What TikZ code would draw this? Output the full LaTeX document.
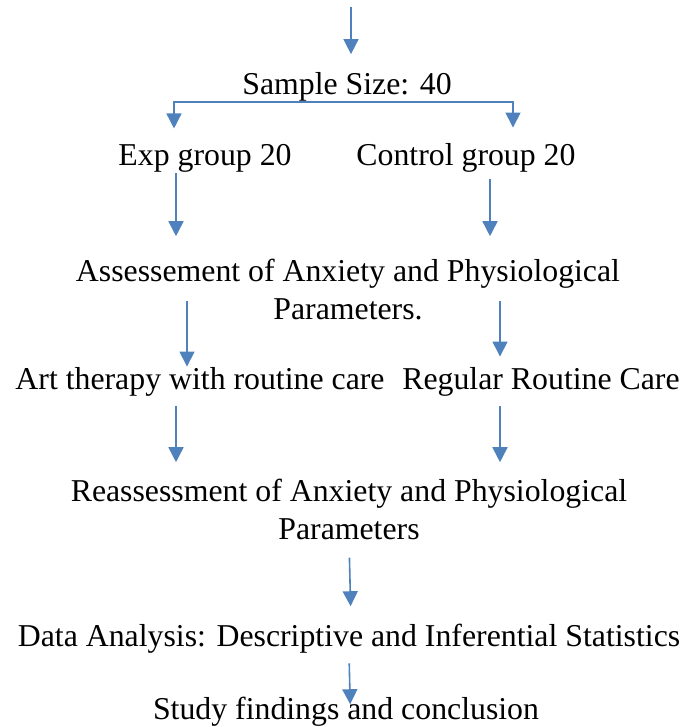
\documentclass[tikz,border=0pt]{standalone}
\usepackage{fontspec}
\setmainfont{Liberation Serif}
\usepackage{tikz}
\usetikzlibrary{arrows.meta}
\definecolor{flowblue}{RGB}{79,129,189}
\tikzstyle{stage} = [inner sep=0pt, anchor=base, align=center, font=\fontsize{15.9}{19}\selectfont]
\tikzstyle{flow} = [draw=flowblue, line width=0.8pt, -{Triangle[length=7.5pt,width=7.5pt]}]

\begin{document}
\begin{tikzpicture}[x=0.5pt, y=-0.5pt]
   \useasboundingbox (0,0) rectangle (699,727);
   % Place nodes
   \coordinate (in) at (351,7);
   \node [stage] (sample) at (347,95) {Sample Size: 40};
   \node [stage] (exp) at (205,166) {Exp group 20};
   \node [stage] (ctrl) at (466,166) {Control group 20};
   \node [stage] (assess) at (348,319) {Assessement of Anxiety and Physiological \\ Parameters.};
   \node [stage] (art) at (200,389) {Art therapy with routine care};
   \node [stage] (routine) at (541,389) {Regular Routine Care};
   \node [stage] (reassess) at (349,539) {Reassessment of Anxiety and Physiological \\ Parameters};
   \node [stage] (data) at (349,646) {Data Analysis: Descriptive and Inferential Statistics};
   \node [stage] (study) at (346,719) {Study findings and conclusion};
   % Arrows
   \draw[flow, shorten >=9.2pt] (in) -- (sample.north -| in);
   \draw[flow, shorten >=8pt] (sample.south) -| ([xshift=-15.5pt]exp.north);
   \draw[flow, shorten >=8pt] (sample.south) -| ([xshift=23.5pt]ctrl.north);
   \draw[flow, shorten >=11pt] ([xshift=-14.5pt]exp.south) -- ([xshift=-86pt]assess.north);
   \draw[flow, shorten <=3pt, shorten >=11pt] ([xshift=12pt]ctrl.south) -- ([xshift=71pt]assess.north);
   \draw[flow, shorten <=-9.5pt] ([xshift=-80.5pt]assess.south) -- ([xshift=-6.5pt]art.north);
   \draw[flow, shorten <=-9.5pt, shorten >=5pt] ([xshift=76pt]assess.south) -- ([xshift=-20.5pt]routine.north);
   \draw[flow, shorten <=5pt, shorten >=8pt] ([xshift=-12pt]art.south) -- ([xshift=-86.5pt]reassess.north);
   \draw[flow, shorten <=5pt, shorten >=8pt] ([xshift=-20.5pt]routine.south) -- ([xshift=75.5pt]reassess.north);
   \draw[flow, shorten <=9pt, shorten >=8.5pt] (reassess.south) -- ([xshift=1pt]data.north);
   \draw[flow, shorten <=5pt, shorten >=-4pt] (data.south) -- ([xshift=2pt]study.north);
\end{tikzpicture}
\end{document}
